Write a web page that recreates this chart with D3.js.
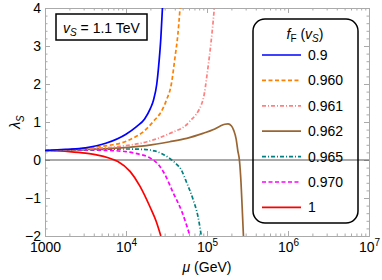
<!DOCTYPE html>
<html>
<head>
<meta charset="utf-8">
<script src="https://cdn.jsdelivr.net/npm/d3@7"></script>
<style>
  body { margin: 0; background: #fff; }
  svg { font-family: "Liberation Sans", Arial, sans-serif; }
</style>
</head>
<body>
<div id="vis-container"></div>
<script>
const width = 382;
const height = 280;
const margin = { top: 8, right: 13, bottom: 44, left: 45 };

// legend labels, f_F(v_S)
const labels = ["0.9", "0.960", "0.961", "0.962", "0.965", "0.970", "1"];
const colors = ["#0000ff", "#ff8000", "#ff8080", "#996633", "#008080", "#ff00ff", "#ff0000"];
const dashes = [null, "4,2.5", "4,2,1,2", null, "4,2,1,2", "4,2.5", null];

// log10(mu / GeV) and lambda_S
const logMu09 = [3.0, 3.25, 3.5, 3.75, 4.0, 4.13, 4.23, 4.3, 4.34, 4.38, 4.4, 4.43, 4.45, 4.47];
const lam09   = [0.25, 0.28, 0.32, 0.44, 0.68, 0.88, 1.08, 1.35, 1.58, 2.0, 2.4, 3.2, 4.0, 5.0];

const logMu960 = [3.0, 3.5, 3.8, 3.93, 4.09, 4.2, 4.34, 4.45, 4.5, 4.56, 4.605, 4.64, 4.667, 4.69];
const lam960   = [0.25, 0.31, 0.39, 0.44, 0.58, 0.72, 1.02, 1.33, 1.58, 2.0, 2.7, 3.3, 4.0, 4.8];

const logMu961 = [3.0, 3.5, 3.93, 4.26, 4.54, 4.78, 4.95, 5.01, 5.05, 5.09, 5.11];
const lam961   = [0.25, 0.29, 0.36, 0.48, 0.70, 1.0, 1.58, 2.4, 3.1, 4.0, 4.6];

const logMu962 = [3.0, 3.5, 3.93, 4.25, 4.54, 4.75, 4.95, 5.08, 5.16, 5.22, 5.26, 5.30, 5.33, 5.36, 5.38, 5.40, 5.42, 5.43, 5.45];
const lam962   = [0.25, 0.28, 0.32, 0.38, 0.48, 0.57, 0.70, 0.80, 0.89, 0.94, 0.95, 0.90, 0.78, 0.55, 0.25, 0.0, -0.6, -1.05, -2.0];

const logMu965 = [3.0, 3.5, 4.0, 4.2, 4.35, 4.45, 4.54, 4.62, 4.68, 4.75, 4.83, 4.89, 4.93];
const lam965   = [0.25, 0.27, 0.29, 0.28, 0.24, 0.16, 0.04, -0.1, -0.25, -0.6, -1.05, -1.5, -2.0];

const logMu970 = [3.0, 3.5, 3.8, 4.0, 4.15, 4.3, 4.4, 4.48, 4.58, 4.69, 4.79];
const lam970   = [0.25, 0.26, 0.25, 0.22, 0.16, 0.05, -0.12, -0.38, -0.85, -1.36, -2.0];

const logMu1 = [3.0, 3.3, 3.5, 3.65, 3.78, 3.9, 4.05, 4.17, 4.3, 4.37, 4.43];
const lam1   = [0.25, 0.22, 0.18, 0.13, 0.06, -0.04, -0.30, -0.68, -1.25, -1.6, -2.0];

const logMuAll = [logMu09, logMu960, logMu961, logMu962, logMu965, logMu970, logMu1];
const lamAll = [lam09, lam960, lam961, lam962, lam965, lam970, lam1];

const xTicks = [1e3, 1e4, 1e5, 1e6, 1e7];
const yTicks = [-2, -1, 0, 1, 2, 3, 4];

const svg = d3.select("#vis-container")
  .append("svg")
  .attr("width", width)
  .attr("height", height);

const x = d3.scaleLog()
  .domain([1e3, 1e7])
  .range([margin.left, width - margin.right]);

const y = d3.scaleLinear()
  .domain([-2, 4])
  .range([height - margin.bottom, margin.top]);

// minor ticks
let xMinor = [];
for (let e = 3; e < 7; e++) {
  for (let k = 2; k <= 9; k++) xMinor.push(k * Math.pow(10, e));
}
let yMinor = d3.range(-2, 4.001, 0.2).filter(v => Math.abs(v - Math.round(v)) > 0.01);

const frameColor = "#aaaaaa";

function styleAxis(g) {
  g.selectAll(".domain").attr("stroke", frameColor);
  g.selectAll(".tick line").attr("stroke", frameColor);
}

// bottom
svg.append("g")
  .attr("transform", `translate(0,${height - margin.bottom})`)
  .call(d3.axisBottom(x).tickValues(xMinor).tickSizeInner(-2.5).tickSizeOuter(0).tickFormat(""))
  .call(styleAxis);
const xAx = svg.append("g")
  .attr("transform", `translate(0,${height - margin.bottom})`)
  .call(d3.axisBottom(x).tickValues(xTicks).tickSizeInner(-5).tickSizeOuter(0).tickFormat(""))
  .call(styleAxis);

// top
svg.append("g")
  .attr("transform", `translate(0,${margin.top})`)
  .call(d3.axisTop(x).tickValues(xMinor).tickSizeInner(-2.5).tickSizeOuter(0).tickFormat(""))
  .call(styleAxis);
svg.append("g")
  .attr("transform", `translate(0,${margin.top})`)
  .call(d3.axisTop(x).tickValues(xTicks).tickSizeInner(-5).tickSizeOuter(0).tickFormat(""))
  .call(styleAxis);

// left
svg.append("g")
  .attr("transform", `translate(${margin.left},0)`)
  .call(d3.axisLeft(y).tickValues(yMinor).tickSizeInner(-2.5).tickSizeOuter(0).tickFormat(""))
  .call(styleAxis);
svg.append("g")
  .attr("transform", `translate(${margin.left},0)`)
  .call(d3.axisLeft(y).tickValues(yTicks).tickSizeInner(-5).tickSizeOuter(0).tickPadding(4)
    .tickFormat(d3.format("d")))
  .call(styleAxis)
  .call(g => g.selectAll("text").attr("font-size", "14px").attr("fill", "#000")
    .attr("font-family", "Liberation Sans, Arial, sans-serif"));

// right
svg.append("g")
  .attr("transform", `translate(${width - margin.right},0)`)
  .call(d3.axisRight(y).tickValues(yMinor).tickSizeInner(-2.5).tickSizeOuter(0).tickFormat(""))
  .call(styleAxis);
svg.append("g")
  .attr("transform", `translate(${width - margin.right},0)`)
  .call(d3.axisRight(y).tickValues(yTicks).tickSizeInner(-5).tickSizeOuter(0).tickFormat(""))
  .call(styleAxis);

// x tick labels with powers of ten
xAx.selectAll(".tick").each(function(d) {
  const t = d3.select(this).append("text")
    .attr("fill", "#000")
    .attr("font-size", "14px")
    .attr("y", 16)
    .attr("text-anchor", "middle");
  const e = Math.round(Math.log10(d));
  if (e === 3) {
    t.text("1000");
  } else {
    t.append("tspan").text("10");
    t.append("tspan").attr("font-size", "10px").attr("dy", -6).text(e);
  }
});

// axis titles
svg.append("text")
  .attr("x", (margin.left + width - margin.right) / 2)
  .attr("y", 272)
  .attr("text-anchor", "middle")
  .attr("font-size", "14px")
  .call(t => {
    t.append("tspan").attr("font-style", "italic").text("μ");
    t.append("tspan").text(" (GeV)");
  });

svg.append("text")
  .attr("transform", `translate(20,${(margin.top + height - margin.bottom) / 2}) rotate(-90)`)
  .attr("text-anchor", "middle")
  .attr("font-size", "14px")
  .call(t => {
    t.append("tspan").attr("font-style", "italic").text("λ");
    t.append("tspan").attr("font-size", "10px").attr("font-style", "italic").attr("dy", 4).text("S");
  });

// zero line
svg.append("line")
  .attr("x1", margin.left).attr("x2", width - margin.right)
  .attr("y1", y(0)).attr("y2", y(0))
  .attr("stroke", "#555")
  .attr("stroke-width", 1.2);

// curves
svg.append("clipPath").attr("id", "clip")
  .append("rect")
  .attr("x", margin.left).attr("y", margin.top)
  .attr("width", width - margin.left - margin.right)
  .attr("height", height - margin.top - margin.bottom);

const line = d3.line()
  .x(d => x(Math.pow(10, d[0])))
  .y(d => y(d[1]))
  .curve(d3.curveMonotoneX);

const curves = svg.append("g").attr("clip-path", "url(#clip)");
for (let i = labels.length - 1; i >= 0; i--) {
  const pts = logMuAll[i].map((v, j) => [v, lamAll[i][j]]);
  curves.append("path")
    .attr("d", line(pts))
    .attr("fill", "none")
    .attr("stroke", colors[i])
    .attr("stroke-width", 1.7)
    .attr("stroke-dasharray", dashes[i]);
}

// v_S box
svg.append("rect")
  .attr("x", 56).attr("y", 14)
  .attr("width", 91).attr("height", 26)
  .attr("fill", "#fff")
  .attr("stroke", "#000")
  .attr("stroke-width", 1.5);
svg.append("text")
  .attr("x", 101.5).attr("y", 33)
  .attr("text-anchor", "middle")
  .attr("font-size", "14px")
  .call(t => {
    t.append("tspan").attr("font-style", "italic").text("v");
    t.append("tspan").attr("font-style", "italic").attr("font-size", "10px").attr("dy", 3).text("S");
    t.append("tspan").attr("dy", -3).text(" = 1.1 TeV");
  });

// legend
const legend = svg.append("g");
legend.append("rect")
  .attr("x", 253).attr("y", 19)
  .attr("width", 105).attr("height", 204)
  .attr("rx", 12).attr("ry", 12)
  .attr("fill", "none")
  .attr("stroke", "#000")
  .attr("stroke-width", 1.5);
legend.append("text")
  .attr("x", 305).attr("y", 39)
  .attr("text-anchor", "middle")
  .attr("font-size", "14px")
  .call(t => {
    t.append("tspan").attr("font-style", "italic").text("f");
    t.append("tspan").attr("font-size", "10px").attr("dy", 3).text("F");
    t.append("tspan").attr("dy", -3).text(" (");
    t.append("tspan").attr("font-style", "italic").text("v");
    t.append("tspan").attr("font-style", "italic").attr("font-size", "10px").attr("dy", 3).text("S");
    t.append("tspan").attr("dy", -3).text(")");
  });

labels.forEach((lab, i) => {
  const ly = 55 + i * 25.4;
  legend.append("line")
    .attr("x1", 262).attr("x2", 301)
    .attr("y1", ly).attr("y2", ly)
    .attr("stroke", colors[i])
    .attr("stroke-width", 1.7)
    .attr("stroke-dasharray", dashes[i]);
  legend.append("text")
    .attr("x", 308).attr("y", ly + 5)
    .attr("font-size", "14px")
    .text(lab);
});
</script>
</body>
</html>
